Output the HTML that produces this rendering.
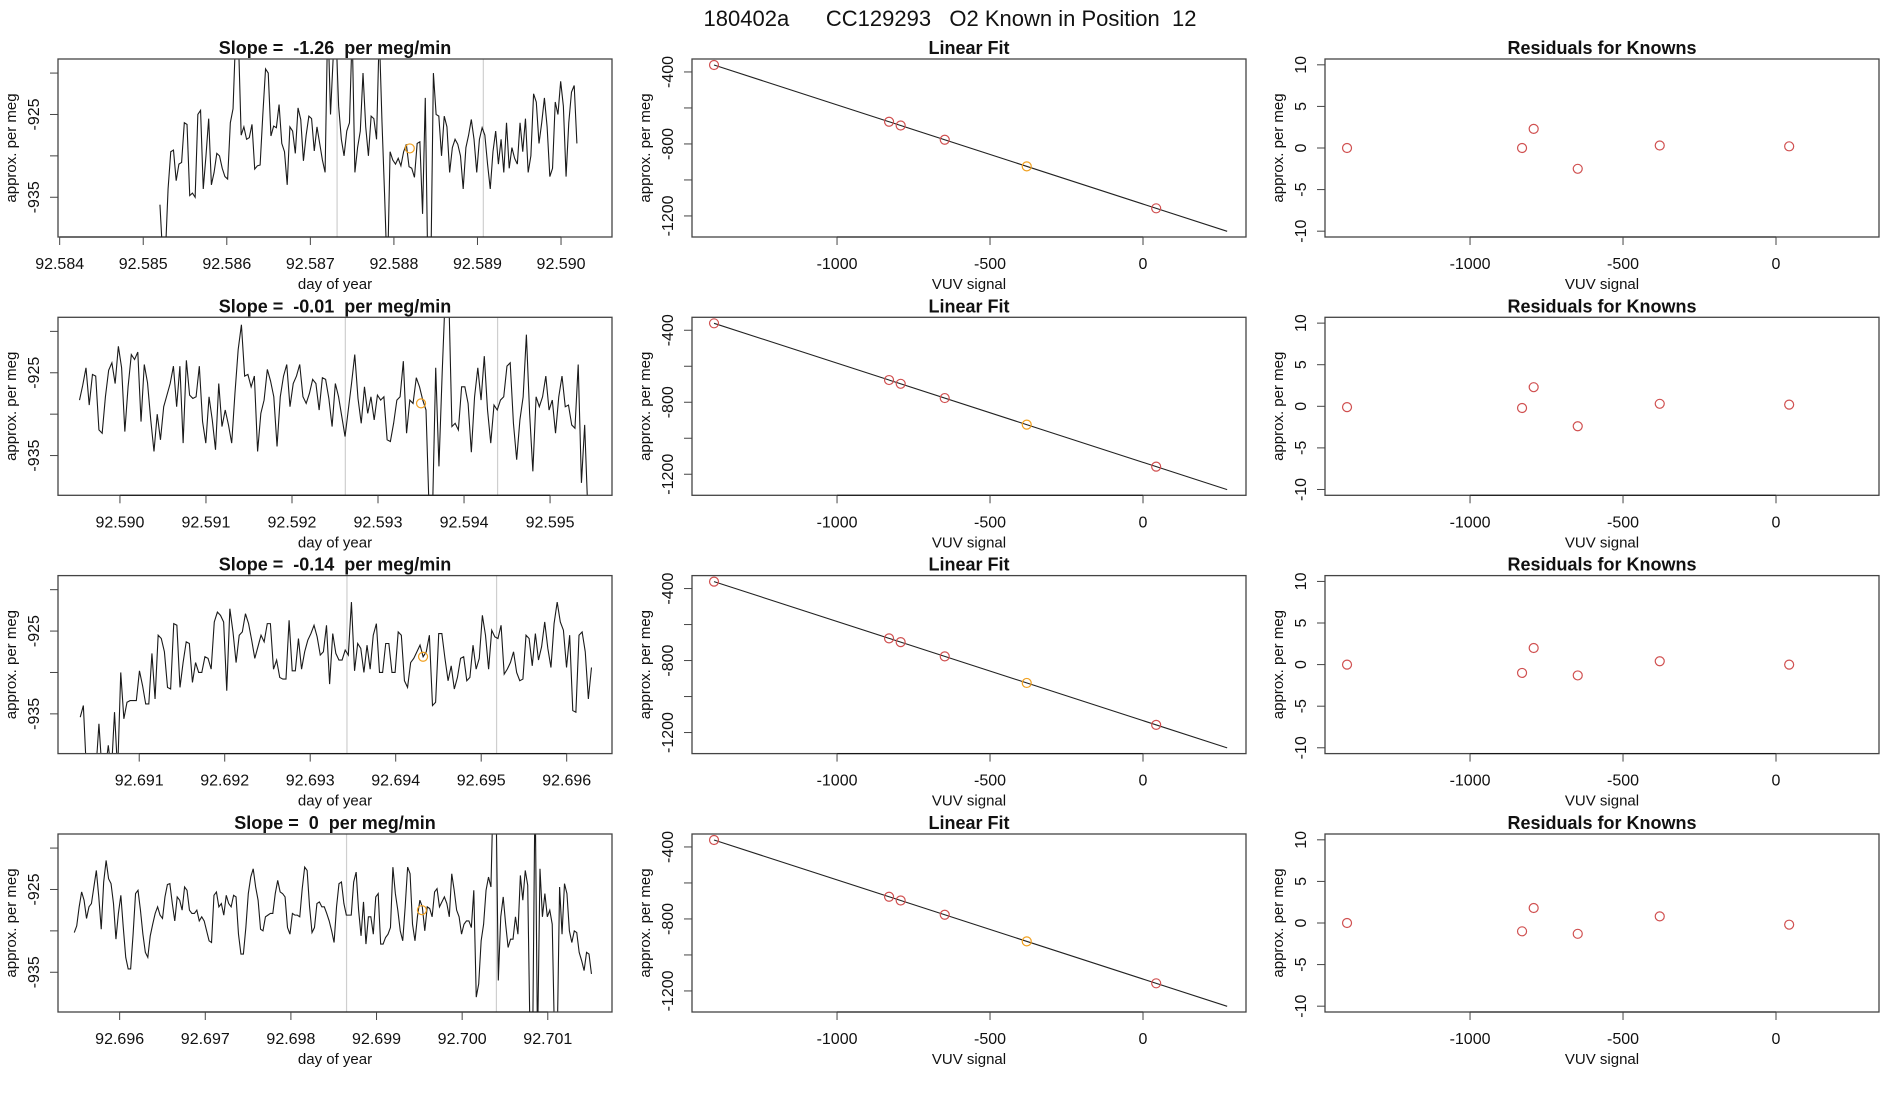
<!DOCTYPE html>
<html><head><meta charset="utf-8"><style>
html,body{margin:0;padding:0;background:#fff;}
svg{display:block;font-family:"Liberation Sans",sans-serif;}
text{fill:#111;}
</style></head><body>
<svg id="fig" width="1900" height="1100" viewBox="0 0 1900 1100" xmlns="http://www.w3.org/2000/svg">
<text x="950" y="26" text-anchor="middle" font-size="22" style="white-space:pre" xml:space="preserve">180402a      CC129293   O2 Known in Position  12</text>
</svg>
<script>
// ---- data ----
const slopeLabels = ["-1.26","-0.01","-0.14","0"];
const timeStart = [92.58520, 92.58953, 92.69031, 92.69547];
const timeEnd = [92.59019, 92.59544, 92.69629, 92.70151];
const timeDomainMin = [92.58398, 92.58928, 92.69005, 92.69528];
const timeDomainMax = [92.59061, 92.59572, 92.69653, 92.70175];
const timeTicks0 = [92.584,92.585,92.586,92.587,92.588,92.589,92.590];
const timeTicks1 = [92.590,92.591,92.592,92.593,92.594,92.595];
const timeTicks2 = [92.691,92.692,92.693,92.694,92.695,92.696];
const timeTicks3 = [92.696,92.697,92.698,92.699,92.700,92.701];
const grayLinesA = [92.58732, 92.59262, 92.69343, 92.69865];
const grayLinesB = [92.58907, 92.59439, 92.69518, 92.70040];
const orangeTime = [92.58819, 92.5935, 92.69432, 92.69953];
const orangeValue = [-929.1, -928.7, -928.1, -927.5];
const series0 = [-935.9,-942,-942,-934,-929.5,-929.3,-933,-931,-930.8,-926,-926.2,-934.8,-934.5,-935,-925,-924.5,-934,-930,-925.5,-933.5,-932,-929.7,-930,-931.5,-932.5,-932.8,-926,-924.3,-915,-916,-927.5,-926.5,-928,-927.8,-926.2,-931.6,-931.2,-931.1,-925,-919.5,-920,-927.6,-926.4,-926.6,-923.8,-928.5,-929.5,-933.5,-926.5,-927,-929.7,-924.2,-925.6,-930.6,-927.5,-925.2,-925.5,-929.4,-926.5,-928.5,-930.5,-932,-913,-925,-918,-915,-924,-928,-930,-927,-926,-915,-932,-929,-927,-920,-926.5,-930,-925.2,-925.5,-928,-915,-925.8,-935,-945,-929.5,-930.5,-931,-930.3,-931.2,-929.5,-928.6,-931.3,-931.5,-932.6,-928.5,-928.3,-937,-923,-945,-945,-920,-925,-925.2,-930,-925.2,-926.5,-932,-929,-928,-928.6,-930,-934,-929,-927.5,-925.6,-928,-932,-928,-926.6,-927.5,-931,-934,-929.5,-927,-931,-928,-932,-926,-931.5,-929,-930.3,-931,-926,-929.5,-925.5,-932,-930,-922.5,-923.5,-928.5,-926,-923,-926.5,-932.5,-931.5,-923.5,-925,-921,-924,-932.5,-926,-922.3,-921.5,-928.5];
const series1 = [-928.3,-926.5,-924.4,-928.9,-925.2,-925.4,-931.9,-932.3,-927.9,-924.7,-923.8,-926.3,-921.8,-924.4,-932.1,-926.7,-922.8,-923.4,-922.5,-930.9,-924.0,-926.2,-930.7,-934.5,-930.0,-933.1,-929.1,-927.7,-926.3,-924.2,-929.1,-924.2,-933.5,-923.5,-927.7,-928.1,-927.9,-924.2,-930.9,-933.5,-927.9,-930.7,-934.3,-926.3,-931.5,-929.5,-931.3,-933.5,-927.5,-922.2,-919.2,-925.4,-925.2,-926.7,-925.4,-934.5,-929.9,-928.3,-924.6,-926.0,-927.9,-933.9,-927.9,-925.4,-924.0,-929.1,-926.3,-925.4,-924.0,-927.9,-928.7,-927.5,-925.8,-926.3,-929.5,-925.6,-925.8,-928.1,-931.5,-926.3,-927.9,-930.3,-932.7,-929.5,-926.3,-922.8,-928.1,-931.1,-926.7,-929.9,-927.9,-930.7,-927.7,-928.3,-927.9,-933.1,-933.3,-931.1,-928.3,-927.9,-923.6,-932.3,-928.3,-928.7,-925.6,-926.7,-928.3,-929.5,-942,-942,-924.4,-936.3,-925.0,-915,-915,-931.5,-931.1,-931.9,-926.7,-926.7,-928.7,-934.6,-927.9,-924.4,-928.3,-923.0,-929.5,-933.5,-928.9,-929.5,-928.3,-927.9,-924.2,-923.8,-931.1,-935.5,-930.7,-927.9,-920.4,-929.9,-936.9,-927.9,-929.1,-927.9,-925.4,-929.5,-928.3,-932.3,-927.9,-925.4,-929.1,-928.9,-931.3,-931.7,-924.0,-938.3,-931.3,-942];
const series2 = [-935.4,-934.0,-942,-942,-942,-942,-936.2,-942,-942,-938.8,-942,-934.8,-942,-930.0,-935.6,-933.6,-933.4,-933.4,-933.4,-929.8,-931.6,-933.8,-933.8,-927.7,-933.2,-925.5,-925.9,-927.5,-931.8,-932.0,-924.1,-924.3,-931.8,-928.8,-926.3,-926.5,-931.2,-928.8,-930.0,-930.0,-928.1,-928.3,-929.6,-923.9,-922.7,-923.1,-923.9,-932.2,-922.3,-925.1,-928.8,-925.5,-925.1,-922.9,-924.1,-926.1,-928.3,-926.9,-925.5,-926.3,-924.1,-924.1,-929.6,-928.5,-930.6,-930.8,-930.8,-923.7,-929.8,-929.8,-925.9,-929.6,-927.5,-926.1,-925.3,-924.3,-925.7,-927.9,-927.5,-924.3,-931.4,-925.3,-927.7,-928.5,-928.5,-927.3,-927.9,-921.5,-929.8,-926.5,-927.1,-930.0,-926.7,-929.6,-925.5,-924.1,-930.0,-930.0,-926.5,-926.5,-930.0,-930.0,-925.1,-925.5,-931.0,-931.8,-928.8,-928.3,-927.5,-926.7,-928.1,-927.5,-925.5,-934.0,-933.6,-925.3,-925.3,-928.3,-931.0,-929.2,-932.0,-930.6,-928.3,-928.1,-931.0,-930.6,-926.7,-929.6,-928.3,-923.1,-925.5,-929.6,-924.9,-925.7,-925.9,-924.3,-930.2,-929.6,-928.8,-927.5,-930.0,-931.0,-930.8,-925.5,-925.9,-929.2,-925.3,-928.5,-926.9,-923.9,-927.1,-929.4,-924.1,-921.5,-923.9,-924.9,-929.4,-925.5,-934.6,-934.8,-925.5,-925.1,-927.5,-933.2,-929.4];
const series3 = [-930.2,-929.4,-927.1,-925.3,-926.3,-928.5,-927.1,-926.7,-924.7,-922.7,-925.9,-929.8,-924.1,-921.5,-923.7,-924.3,-926.7,-931.0,-927.9,-925.7,-929.6,-933.2,-934.6,-934.6,-930.4,-925.5,-925.1,-927.5,-930.4,-932.6,-933.2,-930.6,-929.2,-927.9,-927.1,-928.1,-928.5,-925.9,-924.4,-924.3,-926.7,-928.8,-925.9,-926.3,-927.5,-924.7,-925.1,-927.5,-927.9,-927.9,-927.5,-928.8,-928.3,-928.8,-930.0,-931.2,-931.4,-925.7,-925.3,-927.1,-926.7,-928.1,-925.7,-926.7,-927.1,-925.7,-925.9,-930.4,-932.8,-932.8,-929.6,-925.5,-923.5,-922.5,-924.7,-926.3,-929.8,-930.0,-928.3,-928.1,-927.9,-927.9,-925.5,-923.9,-925.3,-925.5,-925.9,-929.6,-930.4,-927.9,-928.1,-928.1,-928.3,-924.9,-922.3,-922.7,-927.1,-930.2,-929.6,-926.7,-926.5,-927.1,-927.1,-927.9,-928.8,-930.0,-931.4,-927.1,-924.3,-924.1,-926.7,-928.1,-928.1,-928.1,-924.1,-922.9,-927.5,-930.6,-926.5,-931.6,-928.3,-928.3,-930.4,-925.9,-925.5,-931.6,-931.6,-930.8,-930.4,-929.6,-922.3,-925.5,-927.5,-930.0,-931.2,-927.1,-922.3,-923.1,-929.2,-931.2,-928.3,-926.3,-927.1,-930.0,-927.1,-927.3,-928.3,-925.3,-924.9,-927.1,-926.5,-925.9,-926.7,-928.3,-923.1,-925.1,-927.5,-928.3,-930.4,-929.2,-928.8,-928.8,-929.6,-925.1,-938.0,-936.4,-931.2,-929.2,-925.1,-923.5,-924.7,-912,-912,-936.0,-928.3,-925.9,-929.2,-932.0,-931.0,-931.0,-928.3,-930.4,-923.3,-926.3,-922.7,-924.5,-944,-944,-912,-944,-922.5,-928.3,-925.5,-928.3,-927.5,-929.2,-944,-944,-924.7,-930.4,-924.3,-925.5,-930.0,-931.4,-930.0,-930.2,-932.6,-933.6,-934.8,-932.6,-932.8,-935.2];
const fitX = [-1402,-830,-792,-648,-380,43];
const fitY = [-361.4,-676.6,-697.5,-776.8,-924.5,-1157.6];
const fitLineX = [-1402, 275];
const fitLineY = [-361.4, -1285.4];
const orangeFitIndex = 4;
const resid0 = [0,0,2.3,-2.5,0.3,0.2];
const resid1 = [-0.1,-0.2,2.3,-2.4,0.3,0.2];
const resid2 = [0,-1.0,2.0,-1.3,0.4,0];
const resid3 = [0,-1.0,1.8,-1.3,0.8,-0.2];
const fitTicks = [-400,-600,-800,-1000,-1200];
const fitTickLabels = ["-400","","-800","","-1200"];
const vuvTicks = [-1000,-500,0];
const residTicks = [10,5,0,-5,-10];
const levelTicks = [-920,-925,-930,-935];
const levelTickLabels = ["","-925","","-935"];

const svg = document.getElementById('fig');
const NS = 'http://www.w3.org/2000/svg';
function mk(tag, attrs, parent){const e=document.createElementNS(NS,tag);for(const k in attrs)e.setAttribute(k,attrs[k]);(parent||svg).appendChild(e);return e;}
function txt(s, attrs, parent){const e=mk('text',attrs,parent);e.textContent=s;return e;}

const colL=[58,692,1325], W=554, H=178;
const rowTop=[59,317.3,575.6,834];
const allSeries=[series0,series1,series2,series3];
const allTicks=[timeTicks0,timeTicks1,timeTicks2,timeTicks3];
const allResid=[resid0,resid1,resid2,resid3];

function linear(d0,d1,r0,r1){return v=>r0+(v-d0)/(d1-d0)*(r1-r0);}

function frame(g,x0,y0,title,xlab,ylab,xTicks,xLabels,sx,yTicks,yLabels,sy){
  const box=mk('rect',{x:x0,y:y0,width:W,height:H,fill:'none',stroke:'#444','stroke-width':1.3},g);
  
  
  const t=txt(title,{x:x0+W/2,y:y0-5,'text-anchor':'middle','font-size':18,'font-weight':'bold','xml:space':'preserve',style:'white-space:pre'},g);
  
  
  const yb=y0+H;
  const xa=mk('g',{},g);
  
  
  mk('line',{x1:sx(xTicks[0]),x2:sx(xTicks[xTicks.length-1]),y1:yb,y2:yb,stroke:'#111','stroke-width':1},xa);
  xTicks.forEach((v,i)=>{const X=sx(v);mk('line',{x1:X,x2:X,y1:yb,y2:yb+8,stroke:'#444'},xa);
    const tl=txt(xLabels[i],{x:X,y:yb+32,'text-anchor':'middle','font-size':16},xa);
    
    });
  const xl=txt(xlab,{x:x0+W/2,y:yb+52,'text-anchor':'middle','font-size':15},g);
  
  
  const ya=mk('g',{},g);
  
  
  mk('line',{x1:x0,x2:x0,y1:sy(yTicks[0]),y2:sy(yTicks[yTicks.length-1]),stroke:'#444'},ya);
  yTicks.forEach((v,i)=>{const Y=sy(v);mk('line',{x1:x0-8,x2:x0,y1:Y,y2:Y,stroke:'#444'},ya);
    if(yLabels[i]){const tl=txt(yLabels[i],{x:0,y:0,'text-anchor':'middle','font-size':16,transform:`translate(${x0-19},${Y}) rotate(-90)`},ya);
    
    }});
  const yl=txt(ylab,{x:0,y:0,'text-anchor':'middle','font-size':15,transform:`translate(${x0-42},${y0+H/2}) rotate(-90)`},g);
  
  
}

for(let r=0;r<4;r++){
  const y0=rowTop[r];
  {
    const x0=colL[0];
    const g=mk('g',{});
    
    
    const sx=linear(timeDomainMin[r],timeDomainMax[r],x0,x0+W);
    const sy=linear(-918.3,-939.8,y0,y0+H);
    const cp=mk('clipPath',{id:'c'+r},g);
    mk('rect',{x:x0,y:y0,width:W,height:H},cp);
    const inner=mk('g',{'clip-path':`url(#c${r})`},g);
    [grayLinesA[r],grayLinesB[r]].forEach(v=>{const l=mk('line',{x1:sx(v),x2:sx(v),y1:y0,y2:y0+H,stroke:'#cfcfcf','stroke-width':1.2},inner);
      
      });
    const s=allSeries[r];const n=s.length;
    const pts=s.map((v,i)=>sx(timeStart[r]+(timeEnd[r]-timeStart[r])*i/(n-1)).toFixed(2)+','+sy(v).toFixed(2)).join(' ');
    const pl=mk('polyline',{points:pts,fill:'none',stroke:'#1a1a1a','stroke-width':1.1},inner);
    
    
    const oc=mk('circle',{cx:sx(orangeTime[r]),cy:sy(orangeValue[r]),r:4.5,fill:'none',stroke:'#f0a020','stroke-width':1.2},inner);
    
    
    const ticks=allTicks[r];
    frame(g,x0,y0,'Slope =  '+slopeLabels[r]+'  per meg/min','day of year','approx. per meg',ticks,ticks.map(v=>v.toFixed(3)),sx,levelTicks,levelTickLabels,sy);
  }
  {
    const x0=colL[1];
    const g=mk('g',{});
    
    
    const sx=linear(-1474,336.6,x0,x0+W);
    const sy=linear(-328,-1317,y0,y0+H);
    const ln=mk('line',{x1:sx(fitLineX[0]),y1:sy(fitLineY[0]),x2:sx(fitLineX[1]),y2:sy(fitLineY[1]),stroke:'#222','stroke-width':1.1},g);
    
    
    fitX.forEach((v,i)=>{const c=mk('circle',{cx:sx(v),cy:sy(fitY[i]),r:4.5,fill:'none',stroke:i===orangeFitIndex?'#f0a020':'#d05050','stroke-width':1.2},g);
      
      });
    frame(g,x0,y0,'Linear Fit','VUV signal','approx. per meg',vuvTicks,vuvTicks.map(String),sx,fitTicks,fitTickLabels,sy);
  }
  {
    const x0=colL[2];
    const g=mk('g',{});
    
    
    const sx=linear(-1474,336.6,x0,x0+W);
    const sy=linear(10.7,-10.7,y0,y0+H);
    fitX.forEach((v,i)=>{const c=mk('circle',{cx:sx(v),cy:sy(allResid[r][i]),r:4.5,fill:'none',stroke:'#d05050','stroke-width':1.2},g);
      
      });
    frame(g,x0,y0,'Residuals for Knowns','VUV signal','approx. per meg',vuvTicks,vuvTicks.map(String),sx,residTicks,residTicks.map(String),sy);
  }
}
</script>
</body></html>
